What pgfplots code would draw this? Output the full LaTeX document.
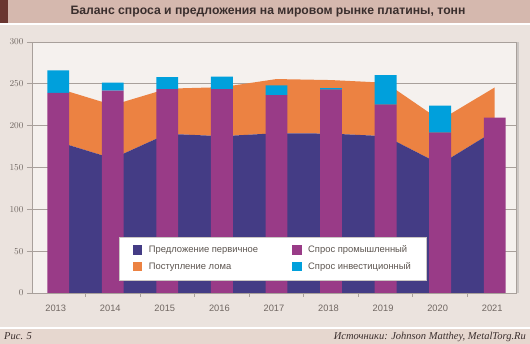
\documentclass[border=0pt]{standalone}
\usepackage{pgfplots}
\pgfplotsset{compat=1.18}
\usepackage{fontspec}
\setmainfont{Liberation Sans}
\newfontfamily\serifit{Liberation Serif}
\definecolor{outerbg}{HTML}{EBE3DE}
\definecolor{plotbg}{HTML}{F5F1EE}
\definecolor{titlebar}{HTML}{D5B8AE}
\definecolor{titledark}{HTML}{6A3630}
\definecolor{footbar}{HTML}{E6D7CF}
\definecolor{cprim}{HTML}{443C85}
\definecolor{cscrap}{HTML}{EC8242}
\definecolor{cind}{HTML}{993B87}
\definecolor{cinv}{HTML}{00A0DC}
\definecolor{gridc}{HTML}{A8A09B}
\definecolor{tickc}{HTML}{706762}
\definecolor{txt}{HTML}{3A2E2D}
\definecolor{legtxt}{HTML}{5D5550}

\begin{document}
\begin{tikzpicture}[x=1pt,y=1pt]
\fill[outerbg] (0,0) rectangle (530,344);
\fill[titlebar] (0,321) rectangle (530,344);
\fill[white] (0,319) rectangle (530,321);
\fill[titledark] (0,321) rectangle (8,344);
\node[font=\bfseries\fontsize{12.2}{14}\selectfont, text=txt] at (268,332.5) {Баланс спроса и предложения на мировом рынке платины, тонн};
\fill[white] (0,15) rectangle (530,16.5);
\fill[footbar] (0,0) rectangle (530,15);
\node[anchor=west, font=\serifit\itshape\fontsize{10.5}{12}\selectfont, text=txt, inner sep=0pt] at (4,7.5) {Рис. 5};
\node[anchor=east, font=\serifit\itshape\fontsize{10.5}{12}\selectfont, text=txt, inner sep=0pt] at (526,7.5) {Источники: Johnson Matthey, MetalTorg.Ru};

\begin{axis}[
  at={(32pt,51pt)}, anchor=south west,
  scale only axis, width=484pt, height=251pt,
  xmin=-0.48, xmax=8.39, ymin=0, ymax=300,
  axis background/.style={fill=plotbg},
  axis line style={gridc, line width=0.8pt},
  ytick={0,50,...,300},
  ymajorgrids, grid style={gridc, line width=0.8pt},
  xtick={0,...,8},
  xticklabels={2013,2014,2015,2016,2017,2018,2019,2020,2021},
  minor xtick={0.5,1.5,...,7.5},
  tick align=outside, tick pos=left,
  major tick length=5pt, minor tick length=4pt,
  tick style={gridc, line width=0.8pt},
  major x tick style={draw=none},
  ticklabel style={font=\fontsize{9.3}{10}\selectfont, text=tickc},
  xticklabel style={xshift=-2.5pt, yshift=-3pt},
  stack plots=y,
]
\addplot[fill=cprim, draw=none] coordinates {(0,180.7)(1,160.7)(2,190.3)(3,187.4)(4,191.0)(5,190.5)(6,187.4)(7,153.9)(8,193.9)} \closedcycle;
\addplot[fill=cscrap, draw=none] coordinates {(0,63.8)(1,63.9)(2,53.9)(3,58.6)(4,64.7)(5,64.0)(6,63.9)(7,52.7)(8,51.8)} \closedcycle;
\end{axis}

\begin{axis}[
  at={(32pt,51pt)}, anchor=south west,
  scale only axis, width=484pt, height=251pt,
  xmin=-0.48, xmax=8.39, ymin=0, ymax=300,
  hide axis,
  ybar stacked, bar width=0.4,
  legend columns=2,
  legend cell align=left,
  legend style={
    at={(0.18,0.223)}, anchor=north west,
    fill=white, draw=gridc!60, line width=0.5pt,
    font=\fontsize{9.4}{10}\selectfont, text=legtxt,
    inner xsep=13.5pt, inner ysep=5pt,
    nodes={inner sep=2pt, inner ysep=3.5pt, text height=7pt, text depth=2.5pt},
    /tikz/every even column/.append style={column sep=32pt},
  },
]
\addlegendimage{legend image code/.code={\fill[cprim] (0pt,-3.4pt) rectangle (8.6pt,5.2pt); \path (13.5pt,0pt);}}
\addlegendentry{Предложение первичное}
\addlegendimage{legend image code/.code={\fill[cind] (0pt,-3.4pt) rectangle (8.6pt,5.2pt); \path (13.5pt,0pt);}}
\addlegendentry{Спрос промышленный}
\addlegendimage{legend image code/.code={\fill[cscrap] (0pt,-3.4pt) rectangle (8.6pt,5.2pt); \path (13.5pt,0pt);}}
\addlegendentry{Поступление лома}
\addlegendimage{legend image code/.code={\fill[cinv] (0pt,-3.4pt) rectangle (8.6pt,5.2pt); \path (13.5pt,0pt);}}
\addlegendentry{Спрос инвестиционный\hspace{8pt}}
\addplot[fill=cind, draw=none, forget plot] coordinates {(0,239.3)(1,242.0)(2,243.8)(3,243.8)(4,236.5)(5,243.1)(6,225.0)(7,191.6)(8,209.6)};
\addplot[fill=cinv, draw=none, forget plot] coordinates {(0,26.7)(1,9.5)(2,14.3)(3,14.7)(4,11.6)(5,1.8)(6,35.5)(7,32.4)(8,0)};
\end{axis}
\draw[gridc!60, line width=1.5pt] (518,51) -- (518,302.4);
\end{tikzpicture}
\end{document}
